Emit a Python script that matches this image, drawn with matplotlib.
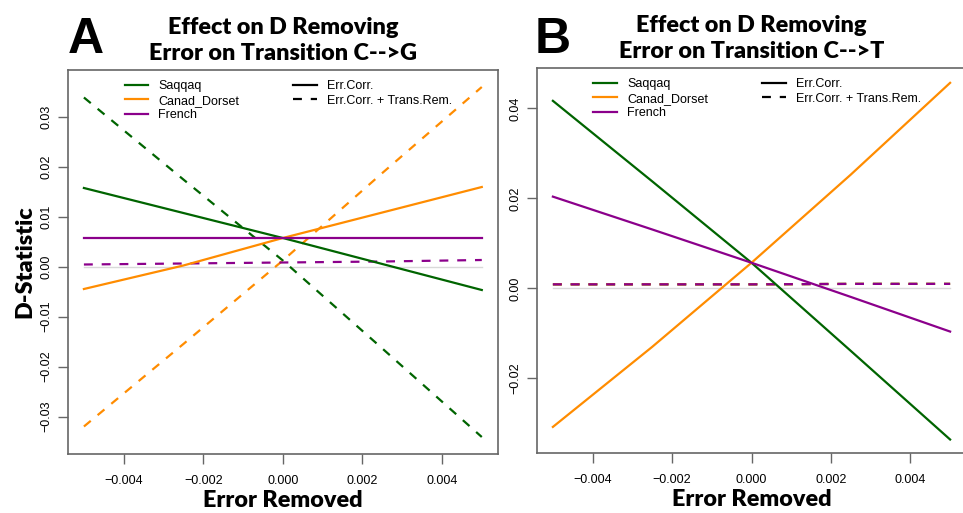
import matplotlib
matplotlib.use("Agg")
import matplotlib.pyplot as plt
from matplotlib.lines import Line2D

# ---- data ----
err_removed = [-0.005, -0.0025, 0.0, 0.0025, 0.005]
populations = ['Saqqaq', 'Canad_Dorset', 'French']

# panel A : transition C-->G
cg_saqqaq_corr = [0.0157, 0.0107, 0.0057, 0.0005, -0.0047]
cg_dorset_corr = [-0.0045, 0.0002, 0.0057, 0.0108, 0.0159]
cg_french_corr = [0.0057, 0.0057, 0.0057, 0.0057, 0.0057]
cg_saqqaq_rem = [0.0338, 0.0174, 0.0012, -0.0164, -0.0341]
cg_dorset_rem = [-0.0320, -0.0155, 0.0012, 0.0187, 0.0359]
cg_french_rem = [0.0004, 0.0006, 0.0008, 0.0010, 0.0013]

# panel B : transition C-->T
ct_saqqaq_corr = [0.0417, 0.0238, 0.0057, -0.0139, -0.0336]
ct_dorset_corr = [-0.0308, -0.0130, 0.0057, 0.0253, 0.0457]
ct_french_corr = [0.0204, 0.0131, 0.0057, -0.0019, -0.0096]
ct_saqqaq_rem = [0.0009, 0.0009, 0.0009, 0.0010, 0.0010]
ct_dorset_rem = [0.0009, 0.0009, 0.0009, 0.0010, 0.0010]
ct_french_rem = [0.0009, 0.0009, 0.0009, 0.0010, 0.0010]

colors = ['#006400', '#ff8c00', '#8b008b']
xticks = [-0.004, -0.002, 0.0, 0.002, 0.004]

W, H = 963, 513
title_font = dict(family='Lato', weight='heavy')
plt.rcParams['font.family'] = 'Liberation Sans'

fig = plt.figure(figsize=(W / 100, H / 100), dpi=100)


def px_axes(left, top, right, bottom):
    return fig.add_axes([left / W, 1 - bottom / H, (right - left) / W, (bottom - top) / H])


def draw_panel(ax, corr, rem, ylim, yticks, ytick_labels):
    ax.axhline(0, xmin=0.5 - 0.005 / 0.0108, xmax=0.5 + 0.005 / 0.0108,
               color='#d9d9d9', lw=1.0, zorder=1)
    for vals, c in zip(rem, colors):
        ax.plot(err_removed, vals, color=c, lw=1.6, dashes=(4, 4), zorder=2)
    for vals, c in zip(corr, colors):
        ax.plot(err_removed, vals, color=c, lw=1.6, zorder=3)
    ax.set_xlim(-0.0054, 0.0054)
    ax.set_ylim(*ylim)
    ax.set_xticks(xticks)
    ax.set_xticklabels(['\u22120.004', '\u22120.002', '0.000', '0.002', '0.004'])
    ax.set_yticks(yticks)
    ax.set_yticklabels(ytick_labels, rotation=90, va='center')
    for s in ax.spines.values():
        s.set_color('#666666')
        s.set_linewidth(1.2)
    ax.tick_params(direction='out', length=7, width=1.0, color='#666666',
                   labelsize=9)
    ax.tick_params(axis='x', pad=8)
    ax.tick_params(axis='y', pad=4)

    handles = [Line2D([], [], color=c, lw=1.6) for c in colors]
    handles += [Line2D([], [], color='black', lw=1.6),
                Line2D([], [], color='black', lw=1.6, dashes=(4, 4))]
    labels = populations + ['Err.Corr.', 'Err.Corr. + Trans.Rem.']
    ax.legend(handles, labels, ncol=2, loc='upper left', frameon=False,
              fontsize=9, handlelength=1.9, handletextpad=0.8,
              columnspacing=4.3, labelspacing=0.2, borderpad=0,
              bbox_to_anchor=(0.117, 0.99))
    ax.set_xlabel('Error Removed', fontsize=16.8, labelpad=2, **title_font)


# panel A
axA = px_axes(68, 70, 497.7, 454)
draw_panel(axA,
           [cg_saqqaq_corr, cg_dorset_corr, cg_french_corr],
           [cg_saqqaq_rem, cg_dorset_rem, cg_french_rem],
           (-0.0375, 0.0393),
           [-0.03, -0.02, -0.01, 0.0, 0.01, 0.02, 0.03],
           ['\u22120.03', '\u22120.02', '\u22120.01', '0.00', '0.01', '0.02', '0.03'])
axA.set_ylabel('D-Statistic', fontsize=16.8, labelpad=4, **title_font)
axA.set_title('Effect on D Removing\nError on Transition C-->G', fontsize=16.8,
              linespacing=1.3, pad=7, **title_font)

# panel B
axB = px_axes(537, 68, 966, 453)
draw_panel(axB,
           [ct_saqqaq_corr, ct_dorset_corr, ct_french_corr],
           [ct_saqqaq_rem, ct_dorset_rem, ct_french_rem],
           (-0.0366, 0.0490),
           [-0.02, 0.0, 0.02, 0.04],
           ['\u22120.02', '0.00', '0.02', '0.04'])
axB.set_title('Effect on D Removing\nError on Transition C-->T', fontsize=16.8,
              linespacing=1.3, pad=7, **title_font)

fig.text(68 / W, 1 - 53 / H, 'A', fontsize=36, ha='left', va='baseline',
         family='Liberation Sans', weight='bold')
fig.text(535 / W, 1 - 53 / H, 'B', fontsize=36, ha='left', va='baseline',
         family='Liberation Sans', weight='bold')

fig.savefig('out.png', dpi=100)
